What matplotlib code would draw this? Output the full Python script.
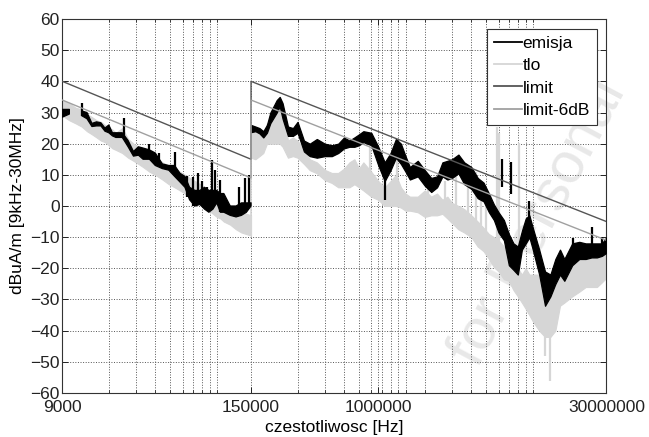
import numpy as np
import matplotlib.pyplot as plt
from matplotlib.lines import Line2D

plt.rcParams['font.family'] = ['Liberation Sans', 'DejaVu Sans']

# --- segment 1: 9 kHz - 150 kHz (frequencies in kHz) ---
f1 = [9, 10, 11, 12, 13, 14, 15, 16, 17, 18, 19, 20, 22, 24, 26, 28, 30, 33, 36, 40,
      44, 48, 52, 56, 60, 65, 70, 75, 80, 85, 90, 95, 100, 110, 120, 130, 140, 150]
em1_lo = [28.5, 29.5, np.nan, 29, 28, 25.5, 25.7, 25.7, 24, 23.5, 22.5, 22, 22, 19, 16, 16.3, 15, 15, 13, 12,
          11.5, 9.5, 7.7, 6, 2, 0, 0.5, -1, -2, -1, 1, -2, -2, -3, -3.5, -3, -2, 0]
em1_hi = [31, 31, np.nan, 30.5, 30, 26.5, 27, 26.7, 25, 26, 23.5, 23.5, 23.5, 21, 17.5, 19, 18.6, 18, 17, 13.5,
          13, 13, 10.5, 9.5, 6, 5, 5, 6, 5, 5, 5, 4, 4, 0, 0, 1, 1, 1]
tlo1_lo = [29, 27.5, 26.5, 25.5, 24, 23, 22, 21, 20.5, 19.5, 18.5, 18, 17, 15.5, 14.5, 13.5, 12.5, 11, 10, 8.5,
           7, 6, 5, 4, 2.5, 1.5, 0.5, -0.5, -1.5, -2.5, -3.5, -4, -5, -6, -7.5, -8.5, -9, -9.5]
tlo1_hi = [34, 33, 31.5, 31, 29.5, 28.5, 27.5, 27, 26, 25, 24.5, 23.5, 25, 21.5, 20, 19, 18, 17, 16, 14,
           13, 12, 11, 10, 9, 8, 7, 6, 5, 4, 3, 2.5, 2, 0, -1, -2, -2.5, -3]

# --- segment 2: 150 kHz - 30 MHz (frequencies in kHz) ---
f2 = [150, 160, 170, 180, 190, 200, 220, 230, 240, 260, 280, 300, 330, 360, 400, 450, 500, 550, 600, 650,
      700, 750, 800, 900, 1000, 1100, 1200, 1300, 1400, 1500, 1600, 1800, 2000, 2200, 2400, 2600, 2800, 3000, 3300, 3600,
      4000, 4400, 4800, 5200, 5600, 6000, 6500, 7000, 7500, 8000, 8500, 9000, 9500, 10000, 11000, 12000, 13000, 14000, 15000, 16000,
      18000, 20000, 22000, 24000, 26000, 28000, 30000]
em2_lo = [23.7, 24, 23.3, 22, 23.5, 26.6, 30, 32, 28, 22.5, 22.5, 23.5, 17.5, 16, 15.5, 16, 16, 17, 18.5, 19,
          19, 19.5, 20.5, 19.5, 13, 8, 11.5, 15.5, 13.5, 11, 8.5, 9.5, 6.5, 4.5, 6, 9.5, 8.5, 9, 10.5, 7,
          5.5, 2.5, 1.5, -2, -4.5, -8.5, -11, -19, -20.5, -22, -14, -12, -10, -14, -22, -32, -29, -25, -22, -24,
          -19, -17, -17, -16.5, -16.5, -16, -15]
em2_hi = [26, 25.5, 25, 24, 26, 30, 34, 35, 33, 25.5, 25, 27, 21, 20, 21.5, 20, 19.5, 20, 22, 21,
          22, 23, 24, 23.5, 19, 14, 17, 21.5, 20, 16, 12.5, 14.5, 11.5, 9, 9.5, 14, 14.5, 15, 16.5, 14,
          12.5, 9, 7.5, 4, 0.5, -2, -4.5, -9, -12, -13, -8, -4, -3, -7, -14, -21, -22, -17, -14, -17,
          -12, -11.5, -12, -12, -12, -12, -10]
tlo2_lo = [15.5, 15, 16, 17, 20, 20, 20, 20, 19, 15.5, 16, 15.5, 13.5, 11.5, 10.5, 8.3, 7.4, 6, 6, 6,
           7, 6, 5, 3, 2, 0, 0, 0, -0.5, -1.5, -1.5, -2, -3.5, -3, -3, -2.5, -4, -5.5, -7.5, -8.5,
           -10, -13, -14.5, -17, -19.6, -21, -23.5, -24, -27, -29, -31, -33, -35, -37, -40, -42, -42, -40, -32, -31,
           -29, -27.5, -26, -26, -26, -24.5, -23]
tlo2_hi = [25, 25, 24, 22.5, 26.5, 26, 31.5, 32.5, 31.5, 21, 22, 21, 18, 15, 14, 11.6, 10.6, 10.6, 12, 14,
           15, 12, 14, 11, 8, 6, 8, 10, 6, 4, 3, 3, 5, 3, 4, 2, 3, 1, 0, -1,
           -3, -5, -7, -9, -10, -11, -13, -15, -18, -20, -22, -20, -22, -22, -22, -26, -28, -26, -20, -19,
           -17, -15, -15, -14, -14, -13, -13]

# narrow spikes: frequency [kHz], bottom, top
em_spk_f = [12, 22.5, 33, 38, 48, 58, 63, 68, 72, 78, 84, 88, 94, 125, 137, 146,
            1100, 6300, 7200, 9500, 18200, 24000, 28000]
em_spk_lo = [29, 22, 15, 13, 10, 3, 0, 1, 0, -1, -1, 1, -2, -3, -2, 0,
             2, 6, 4, -5, -14, -13, -14]
em_spk_hi = [33, 28.2, 20, 17, 17.3, 9.5, 9.3, 10.5, 8, 6, 14.8, 11.5, 8.5, 6, 9, 10,
             10, 15, 14, 1.5, -10.3, -6.7, -9.9]
tlo_spk_f = [880, 1330, 2100, 2700, 3200, 3800, 4300, 4600, 5000, 5850, 6050, 8100, 12000, 13000]
tlo_spk_lo = [8, 5, -2, 0, -2, -3, -5, -6, -8, -12, -12, -21, -48, -56]
tlo_spk_hi = [19, 20.6, 10, 8, 10.6, 8, 11, 6, 6, 25.4, 23.4, 20.2, -30, -30]

# limits [Hz, dBuA/m]
lim_f = [9000, 150000, 150000, 30000000]
lim_v = [40, 15, 40, -5]
lim6_v = [34, 9, 34, -11]

xticks = [9000, 150000, 1000000, 30000000]

c_tlo = '#d6d6d6'
fig = plt.figure(figsize=(6.49, 4.37), dpi=100)
ax = fig.add_axes([0.096, 0.1007, 0.8385, 0.8558])
ax.patch.set_alpha(0)

# watermark behind the data
fig.text(0.83, 0.49, 'for Personal', rotation=62, fontsize=42, color='#e8e8e8',
         ha='center', va='center', zorder=-1)

for f, lo, hi in [(f1, tlo1_lo, tlo1_hi), (f2, tlo2_lo, tlo2_hi)]:
    ax.fill_between(np.array(f) * 1e3, lo, hi, color=c_tlo, lw=0.8, zorder=2)
ax.vlines(np.array(tlo_spk_f) * 1e3, tlo_spk_lo, tlo_spk_hi, color=c_tlo, lw=1.6, zorder=2)
ax.plot([150000, 150000], [tlo1_hi[-1], tlo2_hi[0]], color=c_tlo, lw=1.2, zorder=2)

for f, lo, hi in [(f1, em1_lo, em1_hi), (f2, em2_lo, em2_hi)]:
    ax.fill_between(np.array(f) * 1e3, lo, hi, color='black', lw=0.9, zorder=3)
ax.vlines(np.array(em_spk_f) * 1e3, em_spk_lo, em_spk_hi, color='black', lw=1.6, zorder=3)

ax.plot(lim_f, lim_v, color='#555555', lw=1.0, zorder=4)
ax.plot(lim_f, lim6_v, color='#a0a0a0', lw=1.0, zorder=4)

ax.set_xscale('log')
ax.set_xlim(9000, 30000000)
ax.set_ylim(-60, 60)
ax.set_xticks(xticks)
ax.set_xticklabels([str(t) for t in xticks])
minor = [t * k for t in xticks[:-1] for k in range(2, 11)]
ax.set_xticks(minor, minor=True)
ax.set_xticklabels([], minor=True)
ax.set_yticks(range(-60, 61, 10))

ax.tick_params(which='both', direction='in', top=True, right=True, labelsize=12.5, colors='#222222')
ax.tick_params(which='major', length=4, width=0.7)
ax.tick_params(which='minor', length=2.5, width=0.6)
ax.tick_params(axis='y', pad=2)
ax.tick_params(axis='x', pad=5)
ax.grid(True, which='major', linestyle=':', color='#555555', lw=0.7)
ax.grid(True, which='minor', axis='x', linestyle=':', color='#555555', lw=0.7)
for s in ax.spines.values():
    s.set_linewidth(0.8)
    s.set_color('#333333')

ax.set_xlabel('czestotliwosc [Hz]', fontsize=12.5)
ax.set_ylabel('dBuA/m [9kHz-30MHz]', fontsize=12.5)
ax.xaxis.set_label_coords(0.5, -0.072)
ax.yaxis.set_label_coords(-0.069, 0.5)

handles = [Line2D([], [], color='black', lw=1.3), Line2D([], [], color=c_tlo, lw=1.3),
           Line2D([], [], color='#555555', lw=1.3), Line2D([], [], color='#a0a0a0', lw=1.3)]
leg = ax.legend(handles, ['emisja', 'tlo', 'limit', 'limit-6dB'], loc='upper right', fontsize=12.5,
                fancybox=False, framealpha=1, edgecolor='#333333', handlelength=1.6,
                handletextpad=0.05, labelspacing=0.42, borderpad=0.4, borderaxespad=0.55)
leg.get_frame().set_linewidth(0.8)
leg.set_zorder(10)

fig.savefig('out.png', dpi=100)
